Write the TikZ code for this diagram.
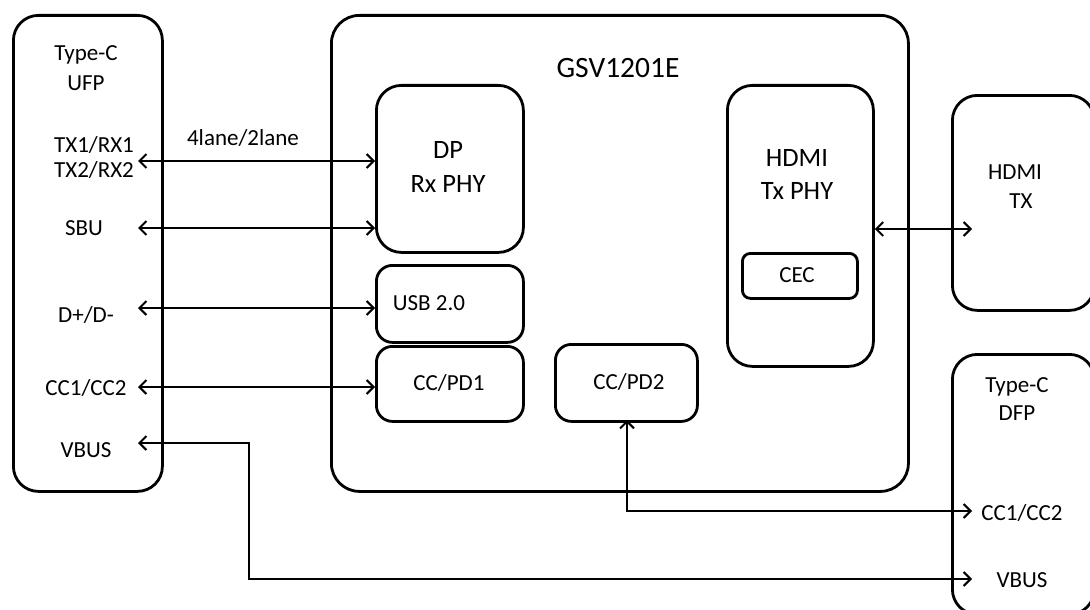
\documentclass[tikz,border=0pt]{standalone}
\usepackage{fontspec}
\setmainfont{Carlito}
\usetikzlibrary{arrows.meta}
\begin{document}
\begin{tikzpicture}[x=1pt,y=-1pt,
  box/.style={draw, line width=2.8pt, rounded corners=#1, inner sep=0pt, anchor=north west},
  box/.default=20pt,
  lbl/.style={inner sep=0pt, font=\fontsize{23}{27}\selectfont},
  biglbl/.style={inner sep=0pt, font=\fontsize{26.5}{30}\selectfont},
  conn/.style={line width=2pt, {Straight Barb[length=7pt,width=14pt]}-{Straight Barb[length=7pt,width=14pt]}},
]
\clip (0,0) rectangle (1090,610);
\fill[white] (0,0) rectangle (1090,610);

% boxes
\node[box=25pt, minimum width=149pt, minimum height=476pt] (ufp) at (12,14) {};
\node[box=28pt, minimum width=577pt, minimum height=476pt] (gsv) at (330,14) {};
\node[box=25pt, minimum width=147pt, minimum height=167pt] (dp) at (375,84) {};
\node[box=16pt, minimum width=147pt, minimum height=77pt] (usb) at (375,264) {};
\node[box=16pt, minimum width=147pt, minimum height=75pt] (pd1) at (375,345) {};
\node[box=16pt, minimum width=142pt, minimum height=77pt] (pd2) at (554,343) {};
\node[box=25pt, minimum width=146pt, minimum height=281pt] (hphy) at (726,84) {};
\node[box=8pt, minimum width=115pt, minimum height=45pt] (cec) at (741,252) {};
\node[box=25pt, minimum width=142pt, minimum height=215pt] (htx) at (951,94) {};
\node[box=25pt, minimum width=142pt, minimum height=260pt] (dfp) at (951,353) {};

% texts
\node[lbl] (t1) at (86,55) {Type-C};
\node[lbl] (t2) at (86,83) {UFP};
\node[lbl] (t3) at (94,145) {TX1/RX1};
\node[lbl] (t4) at (94,170) {TX2/RX2};
\node[lbl] (t5) at (84,228) {SBU};
\node[lbl] (t6) at (86,315) {D+/D-};
\node[lbl] (t7) at (86,388) {CC1/CC2};
\node[lbl] (t8) at (86,450) {VBUS};
\node[lbl] (t9) at (243,138) {4lane/2lane};
\node[inner sep=0pt, font=\fontsize{29.5}{33}\selectfont] (title) at (618,68) {GSV1201E};
\node[biglbl] (t10) at (448,150) {DP};
\node[biglbl] (t11) at (448,184) {Rx PHY};
\node[lbl] (t12) at (429,303) {USB 2.0};
\node[lbl] (t13) at (449,383) {CC/PD1};
\node[lbl] (t14) at (629,382) {CC/PD2};
\node[biglbl] (t15) at (797,158) {HDMI};
\node[biglbl] (t16) at (797,191) {Tx PHY};
\node[lbl] (t17) at (797,275) {CEC};
\node[lbl] (t18) at (1015,172) {HDMI};
\node[lbl] (t19) at (1021,201) {TX};
\node[lbl] (t20) at (1017,387) {Type-C};
\node[lbl] (t21) at (1017,413) {DFP};
\node[lbl] (t22) at (1022,513) {CC1/CC2};
\node[lbl] (t23) at (1022,580) {VBUS};

% connector end points
\coordinate (utx) at (138,161);
\coordinate (usbu) at (138,228);
\coordinate (ud) at (138,308);
\coordinate (ucc) at (138,387);
\coordinate (uvb) at (138,443);
\coordinate (dcc) at (972,511);
\coordinate (dvb) at (972,579);
\coordinate (htxin) at (972,229);
\coordinate (pd2b) at (627,420);

\draw[conn] (utx) -- (utx -| dp.west);
\draw[conn] (usbu) -- (usbu -| dp.west);
\draw[conn] (ud) -- (ud -| usb.west);
\draw[conn] (ucc) -- (ucc -| pd1.west);
\draw[conn] (uvb) -- (249,443) -- (249,579) -- (dvb);
\draw[conn] (pd2b) -- (pd2b |- dcc) -- (dcc);
\draw[conn] (htxin -| hphy.east) -- (htxin);
\end{tikzpicture}
\end{document}
